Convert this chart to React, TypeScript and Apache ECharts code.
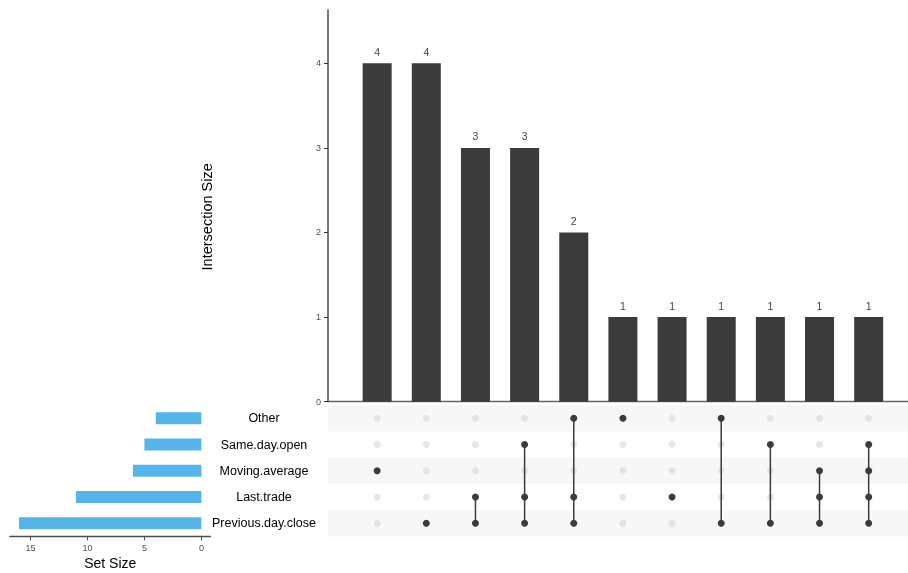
import React, { useEffect, useRef } from 'react';
import * as echarts from 'echarts';

const FONT = '"Liberation Sans", Arial, Helvetica, sans-serif';

// Sets listed bottom-to-top as drawn in the matrix
const setNames = ['Previous.day.close', 'Last.trade', 'Moving.average', 'Same.day.open', 'Other'];
const setSizes = [16, 11, 6, 5, 4];
const setSizeTicks = [0, 5, 10, 15];

const intersectionSizes = [4, 4, 3, 3, 2, 1, 1, 1, 1, 1, 1];
const intersectionMembers: string[][] = [
  ['Moving.average'],
  ['Previous.day.close'],
  ['Last.trade', 'Previous.day.close'],
  ['Same.day.open', 'Last.trade', 'Previous.day.close'],
  ['Other', 'Last.trade', 'Previous.day.close'],
  ['Other'],
  ['Last.trade'],
  ['Other', 'Previous.day.close'],
  ['Same.day.open', 'Previous.day.close'],
  ['Moving.average', 'Last.trade', 'Previous.day.close'],
  ['Same.day.open', 'Moving.average', 'Last.trade', 'Previous.day.close'],
];
const intersectionTicks = [0, 1, 2, 3, 4];
const shadedSets = ['Previous.day.close', 'Moving.average', 'Other'];

export default function App() {
  const ref = useRef<HTMLDivElement>(null);
  useEffect(() => {
    const chart = echarts.init(ref.current!, null, { renderer: 'svg' });

    const barData = intersectionSizes.map((v, i) => [i + 1, v]);
    const greyDots: number[][] = [];
    const darkDots: number[][] = [];
    const lineData: number[][] = [];
    intersectionMembers.forEach((members, i) => {
      const idxs = members.map((m) => setNames.indexOf(m));
      setNames.forEach((_, s) => {
        if (idxs.includes(s)) darkDots.push([i + 1, s]);
        else greyDots.push([i + 1, s]);
      });
      if (idxs.length > 1) lineData.push([i + 1, Math.min(...idxs), Math.max(...idxs)]);
    });
    const stripeData = shadedSets.map((s) => [0, setNames.indexOf(s)]);

    const option: any = {
      animation: false,
      textStyle: { fontFamily: FONT },
      grid: [
        { left: 328, right: 0, top: 10, bottom: 171.3 },
        { left: 328, right: 0, top: 405.2, bottom: 36.6 },
        { left: 9.9, right: 697.5, top: 405.2, bottom: 36.6 },
      ],
      xAxis: [
        {
          gridIndex: 0, type: 'value', min: 0, max: 11.8,
          axisLine: { show: true, onZero: false, lineStyle: { color: '#666', width: 1.3 } },
          axisTick: { show: false }, axisLabel: { show: false }, splitLine: { show: false },
        },
        { gridIndex: 1, type: 'value', min: 0, max: 11.8, show: false, splitLine: { show: false } },
        {
          gridIndex: 2, type: 'value', inverse: true, min: -0.8, max: 16.8, position: 'bottom',
          axisLine: { show: true, onZero: false, lineStyle: { color: '#4d4d4d', width: 1.3 } },
          axisTick: { show: true, length: 4, customValues: setSizeTicks, lineStyle: { color: '#4d4d4d' } },
          axisLabel: { customValues: setSizeTicks, fontSize: 9, color: '#4d4d4d', margin: 7, fontFamily: FONT },
          splitLine: { show: false },
          name: 'Set Size', nameLocation: 'middle', nameGap: 20,
          nameTextStyle: { fontSize: 14, color: '#000', fontFamily: FONT },
        },
      ],
      yAxis: [
        {
          gridIndex: 0, type: 'value', min: 0, max: 4.63,
          axisLine: { show: true, lineStyle: { color: '#4d4d4d', width: 1.5 } },
          axisTick: { show: true, length: 4, customValues: intersectionTicks, lineStyle: { color: '#333' } },
          axisLabel: { customValues: intersectionTicks, fontSize: 9, color: '#4d4d4d', margin: 7, fontFamily: FONT },
          splitLine: { show: false },
          name: 'Intersection Size', nameLocation: 'middle', nameGap: 114, nameRotate: 90,
          nameTextStyle: { fontSize: 14.5, color: '#000', fontFamily: FONT, padding: [0, 22, 0, 0] },
        },
        {
          gridIndex: 1, type: 'category', data: setNames,
          axisLine: { show: false }, axisTick: { show: false }, splitLine: { show: false },
          axisLabel: { interval: 0, margin: 64, align: 'center', fontSize: 12.5, color: '#000', fontFamily: FONT },
        },
        { gridIndex: 2, type: 'category', data: setNames, show: false },
      ],
      series: [
        {
          type: 'bar', xAxisIndex: 0, yAxisIndex: 0, data: barData, barWidth: 29,
          itemStyle: { color: '#3b3b3b' },
          label: { show: true, position: 'top', distance: 6, fontSize: 10.5, color: '#444', fontFamily: FONT },
        },
        {
          type: 'custom', xAxisIndex: 1, yAxisIndex: 1, data: stripeData, encode: { x: 0, y: 1 }, z: 0, silent: true,
          renderItem: (params: any, api: any) => {
            const cs = params.coordSys;
            const c = api.coord([0, api.value(1)]);
            const h = api.size([0, 1])[1];
            return {
              type: 'rect',
              shape: { x: cs.x, y: c[1] - h / 2, width: cs.width, height: h },
              style: { fill: '#f7f7f7' },
            };
          },
        },
        {
          type: 'scatter', xAxisIndex: 1, yAxisIndex: 1, data: greyDots, symbolSize: 7, z: 1,
          itemStyle: { color: '#d4d4d4', opacity: 0.55 },
        },
        {
          type: 'custom', xAxisIndex: 1, yAxisIndex: 1, data: lineData, encode: { x: 0, y: [1, 2] }, z: 2,
          renderItem: (params: any, api: any) => {
            const p1 = api.coord([api.value(0), api.value(1)]);
            const p2 = api.coord([api.value(0), api.value(2)]);
            return {
              type: 'line',
              shape: { x1: p1[0], y1: p1[1], x2: p2[0], y2: p2[1] },
              style: { stroke: '#3b3b3b', lineWidth: 1.5 },
            };
          },
        },
        {
          type: 'scatter', xAxisIndex: 1, yAxisIndex: 1, data: darkDots, symbolSize: 7, z: 3,
          itemStyle: { color: '#3b3b3b', opacity: 1 },
        },
        {
          type: 'bar', xAxisIndex: 2, yAxisIndex: 2, data: setSizes, barWidth: 12,
          itemStyle: { color: '#56B4E9' },
        },
      ],
    };
    chart.setOption(option);
    return () => chart.dispose();
  }, []);
  return <div ref={ref} style={{ position: 'fixed', left: 0, top: 0, width: 908, height: 573 }} />;
}
